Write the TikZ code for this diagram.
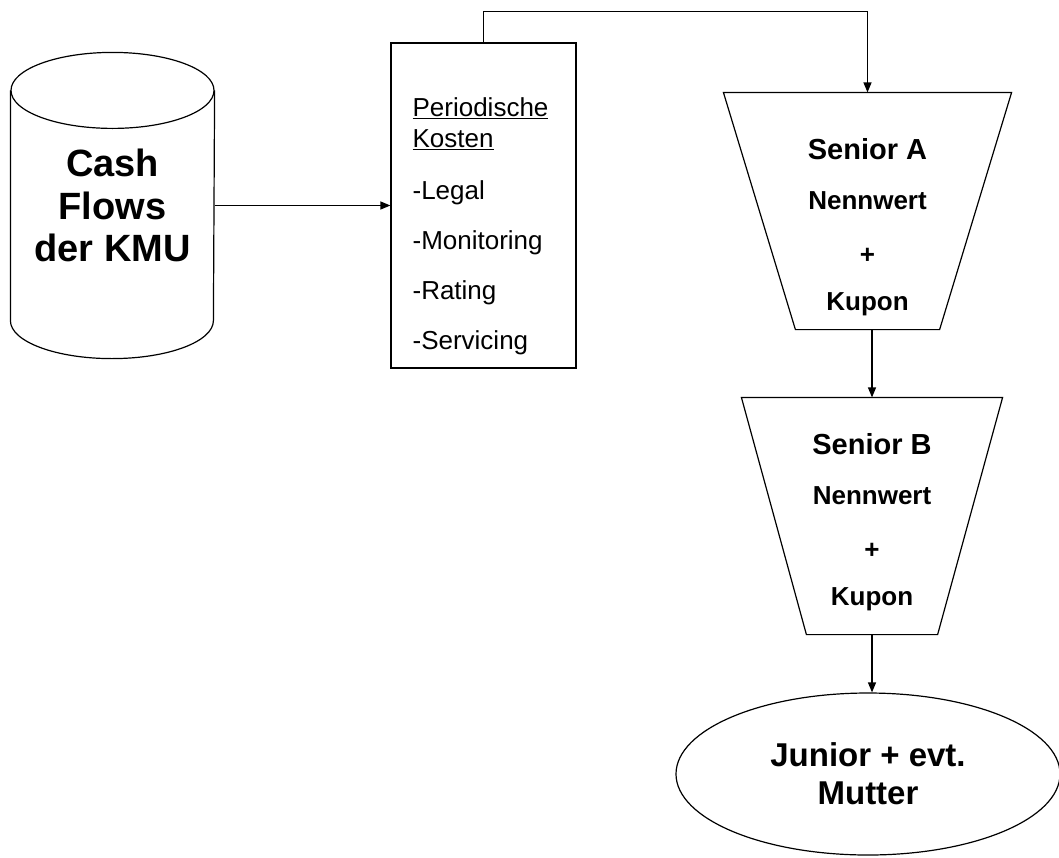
\documentclass[tikz,border=0pt]{standalone}
\usepackage{fontspec}
\setmainfont{Liberation Sans}
\usetikzlibrary{arrows.meta,shapes.geometric}
\tikzset{
  pfeil/.style={-{Triangle[length=10pt,width=8pt]}},
  tranche/.style={minimum height=236pt,inner sep=0pt},
  tranchetext/.style={align=center,inner sep=0pt,font=\fontsize{26}{26}\selectfont\bfseries},
}
\begin{document}
\begin{tikzpicture}[x=1pt,y=-1pt,line width=1.2pt]
\useasboundingbox(0,0) rectangle (1059,857);
\pgfmathsetmacro{\krx}{101.5}
\pgfmathsetmacro{\kry}{38}
\node[minimum width=203pt,minimum height=229pt,inner sep=0pt,align=center,font=\fontsize{38}{42.5}\selectfont\bfseries](kmu) at (112.5,205.5) {Cash\\Flows\\der KMU};
\draw(kmu.north west)--(kmu.south west) arc[start angle=180,end angle=0,x radius=\krx,y radius=\kry]--(kmu.north east);
\draw(kmu.north) ellipse[x radius=\krx,y radius=\kry];
\node[draw,minimum width=185pt,minimum height=325pt](kosten) at (483.5,205.5) {};
\node[anchor=north west,align=left,inner sep=0pt,font=\fontsize{26}{31}\selectfont](kostentext) at (412,97) {\underline{Periodische}\\\underline{Kosten}\\[21pt]-Legal\\[19pt]-Monitoring\\[19pt]-Rating\\[19pt]-Servicing};
\node[tranche,minimum width=287pt](seniorA) at (867.5,211) {};
\draw(seniorA.north west)--(seniorA.north east)--([xshift=-72]seniorA.south east)--([xshift=72]seniorA.south west)--cycle;
\node[tranchetext,anchor=north](seniorAtext) at ([yshift=-45]seniorA.north) {{\fontsize{29}{29}\selectfont Senior A}\\[24pt]Nennwert\\[28pt]+\\[21pt]Kupon};
\node[tranche,minimum width=260pt](seniorB) at (872,516) {};
\draw(seniorB.north west)--(seniorB.north east)--([xshift=-65]seniorB.south east)--([xshift=65]seniorB.south west)--cycle;
\node[tranchetext,anchor=north](seniorBtext) at ([yshift=-35]seniorB.north) {{\fontsize{29}{29}\selectfont Senior B}\\[24pt]Nennwert\\[28pt]+\\[21pt]Kupon};
\node[draw,ellipse,minimum width=384pt,minimum height=162pt,inner sep=0pt,align=center,font=\fontsize{33}{38}\selectfont\bfseries](junior) at (868,774) {Junior + evt.\\Mutter};
\draw[pfeil](kmu.east)--(kosten.west);
\draw[pfeil](kosten.north)--++(0,-31)-|(seniorA.north);
\draw[pfeil](seniorA.south -| seniorB.north)--(seniorB.north);
\draw[pfeil](seniorB.south)--(seniorB.south |- junior.north);
\end{tikzpicture}
\end{document}
